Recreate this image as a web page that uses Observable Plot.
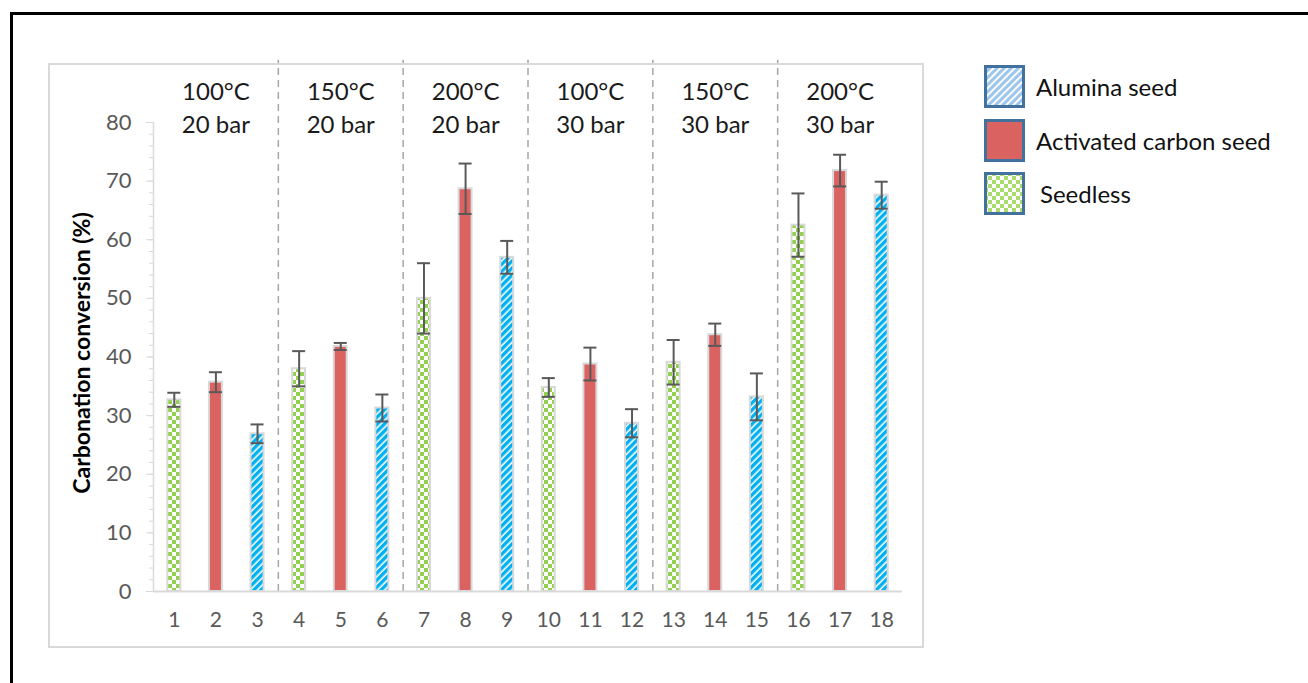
<!DOCTYPE html>
<html>
<head>
<meta charset="utf-8">
<script src="https://cdn.jsdelivr.net/npm/d3@7"></script>
<script src="https://cdn.jsdelivr.net/npm/@observablehq/plot@0.6"></script>
<style>
  html, body { margin: 0; padding: 0; background: #fff; }
  #wrap { position: relative; width: 1308px; height: 683px; overflow: hidden; font-family: Lato, "Open Sans", sans-serif; }
  #chart svg { display: block; }
  .outer { position: absolute; left: 10px; top: 12px; width: 1400px; height: 800px; border: 3px solid #000; pointer-events: none; z-index: 2; }
  .inner { position: absolute; left: 48px; top: 63px; width: 872px; height: 581px; border: 2px solid #d9d9d9; pointer-events: none; z-index: 2; }
  #legend { position: absolute; left: 984px; top: 65px; z-index: 3; }
  .item { position: absolute; left: 0; display: flex; align-items: center; height: 43px; }
  .item svg { display: block; }
  .item span { font-size: 24px; color: #111; margin-left: 11px; white-space: nowrap; }
</style>
</head>
<body>
<div id="wrap">
  <div id="chart"></div>
  <div class="outer"></div>
  <div class="inner"></div>
  <div id="legend"></div>
</div>
<script>
// ---- data ----
const runs = ["1","2","3","4","5","6","7","8","9","10","11","12","13","14","15","16","17","18"];
const seeds = ["Seedless","Activated carbon seed","Alumina seed",
               "Seedless","Activated carbon seed","Alumina seed",
               "Seedless","Activated carbon seed","Alumina seed",
               "Seedless","Activated carbon seed","Alumina seed",
               "Seedless","Activated carbon seed","Alumina seed",
               "Seedless","Activated carbon seed","Alumina seed"];
const conversion = [32.7, 35.7, 26.9, 38.0, 41.8, 31.3, 50.0, 68.7, 57.0, 34.8, 38.8, 28.7, 39.1, 43.8, 33.2, 62.5, 71.8, 67.6];
const errors     = [1.2, 1.7, 1.6, 3.0, 0.6, 2.3, 6.0, 4.3, 2.8, 1.6, 2.8, 2.4, 3.8, 1.9, 4.0, 5.4, 2.7, 2.3];
const conditions = ["100°C\n20 bar","150°C\n20 bar","200°C\n20 bar","100°C\n30 bar","150°C\n30 bar","200°C\n30 bar"];
const conditionRuns = ["2","5","8","11","14","17"];
const groupBoundaries = ["3","6","9","12","15"];
const yTicks = [0,10,20,30,40,50,60,70,80];
const yMinorTicks = [0,2,4,6,8,10,12,14,16,18,20,22,24,26,28,30,32,34,36,38,40,42,44,46,48,50,52,54,56,58,60,62,64,66,68,70,72,74,76,78,80];
const legendOrder = ["Alumina seed","Activated carbon seed","Seedless"];
const seedFill = {
  "Seedless": "url(#pat-green)",
  "Activated carbon seed": "#da6362",
  "Alumina seed": "url(#pat-blue)"
};

const table = runs.map((r, i) => ({run: r, seed: seeds[i], value: conversion[i], err: errors[i]}));
const groups = conditions.map((c, i) => ({label: c, run: conditionRuns[i]}));

const W = 1308, H = 683, mL = 153, mR = 406, mT = 122, mB = 92;
const step = (W - mL - mR) / runs.length;

const plot = Plot.plot({
  width: W, height: H,
  marginLeft: mL, marginRight: mR, marginTop: mT, marginBottom: mB,
  style: {background: "transparent", color: "#595959", fontFamily: "Lato, 'Open Sans', sans-serif", overflow: "visible"},
  x: {type: "band", domain: runs, paddingInner: 0.6875, paddingOuter: 0.34375, align: 0.5, round: false},
  y: {domain: [0, 80]},
  marks: [
    Plot.ruleX(groupBoundaries, {x: d => d, dx: step / 2, y1: 0, y2: 90.6, stroke: "#a6a6a6", strokeWidth: 1.5, strokeDasharray: "7,5"}),
    Plot.ruleX(["1"], {x: d => d, dx: -step / 2, y1: 0, y2: 80, stroke: "#d9d9d9", strokeWidth: 1.5}),
    Plot.axisY(yMinorTicks, {tickSize: 4, tickFormat: () => "", stroke: "#d9d9d9", label: null}),
    Plot.axisY(yTicks, {tickSize: 7, tickPadding: 15, stroke: "#d9d9d9", fill: "#595959", fontSize: 22, label: null}),
    Plot.axisX({tickSize: 0, tickPadding: 21, fill: "#595959", fontSize: 21, label: null}),
    Plot.barY(table, {x: "run", y: "value", fill: d => seedFill[d.seed], stroke: "#d9d9d9", strokeWidth: 2}),
    Plot.ruleY([0], {stroke: "#d9d9d9", strokeWidth: 2}),
    Plot.ruleX(table, {x: "run", y1: d => d.value - d.err, y2: d => d.value + d.err, stroke: "#595959", strokeWidth: 2}),
    Plot.tickY(table, {x: "run", y: d => d.value + d.err, stroke: "#595959", strokeWidth: 2}),
    Plot.tickY(table, {x: "run", y: d => d.value - d.err, stroke: "#595959", strokeWidth: 2}),
    Plot.text(groups, {x: "run", y: 82.8, text: "label", fontSize: 24, lineHeight: 1.35, fill: "#1a1a1a", lineAnchor: "middle"}),
    Plot.text(["Carbonation conversion (%)"], {frameAnchor: "left", dx: -71, dy: -4, rotate: -90, textAnchor: "middle", fontSize: 23, fontWeight: "bold", fill: "#000"})
  ]
});

// patterns for hatched bars
const defs = d3.select(plot).insert("defs", ":first-child");
const pg = defs.append("pattern").attr("id", "pat-green").attr("patternUnits", "userSpaceOnUse").attr("width", 8).attr("height", 8);
pg.append("rect").attr("width", 8).attr("height", 8).attr("fill", "#fff");
pg.append("rect").attr("width", 4).attr("height", 4).attr("fill", "#92d050");
pg.append("rect").attr("x", 4).attr("y", 4).attr("width", 4).attr("height", 4).attr("fill", "#92d050");
const pb = defs.append("pattern").attr("id", "pat-blue").attr("patternUnits", "userSpaceOnUse").attr("width", 5).attr("height", 5).attr("patternTransform", "rotate(45)");
pb.append("rect").attr("width", 5).attr("height", 5).attr("fill", "#fff");
pb.append("rect").attr("width", 3.4).attr("height", 5).attr("fill", "#00b0f0");

document.getElementById("chart").appendChild(plot);

// legend
const swatch = {
  "Alumina seed": `<svg width="41" height="43"><defs><pattern id="lg-blue" patternUnits="userSpaceOnUse" width="5" height="5" patternTransform="rotate(45)"><rect width="5" height="5" fill="#fff"/><rect width="3" height="5" fill="#9cc6ec"/></pattern></defs><rect x="1.5" y="1.5" width="38" height="40" fill="url(#lg-blue)" stroke="#41719c" stroke-width="3"/></svg>`,
  "Activated carbon seed": `<svg width="41" height="43"><rect x="1.5" y="1.5" width="38" height="40" fill="#da6362" stroke="#41719c" stroke-width="3"/></svg>`,
  "Seedless": `<svg width="41" height="43"><defs><pattern id="lg-green" patternUnits="userSpaceOnUse" width="8" height="8"><rect width="8" height="8" fill="#fff"/><rect width="4" height="4" fill="#a8dc6c"/><rect x="4" y="4" width="4" height="4" fill="#a8dc6c"/></pattern></defs><rect x="1.5" y="1.5" width="38" height="40" fill="url(#lg-green)" stroke="#41719c" stroke-width="3"/></svg>`
};
const legendTops = [0, 54, 107];
const lg = document.getElementById("legend");
legendOrder.forEach((s, i) => {
  const div = document.createElement("div");
  div.className = "item";
  div.style.top = legendTops[i] + "px";
  div.innerHTML = swatch[s] + `<span style="${s === "Seedless" ? "margin-left:15px" : ""}">${s}</span>`;
  lg.appendChild(div);
});
</script>
</body>
</html>
